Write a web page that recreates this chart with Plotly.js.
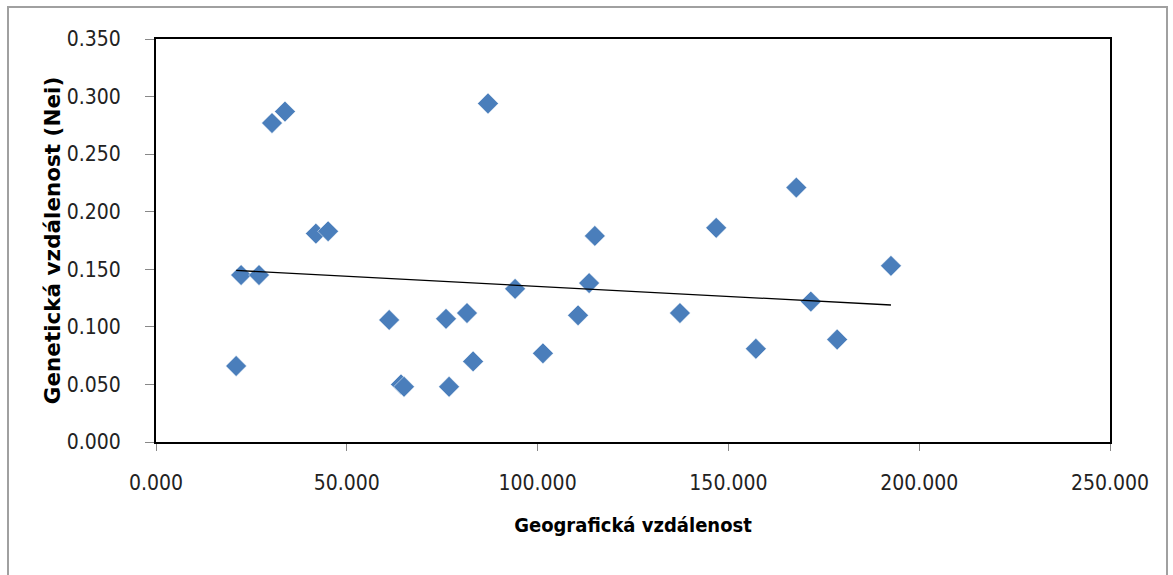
<!DOCTYPE html>
<html>
<head>
<meta charset="utf-8">
<script src="https://cdn.plot.ly/plotly-3.0.1.min.js"></script>
<style>
  html, body { margin: 0; padding: 0; background: #fff; }
  #frame { position: absolute; left: 7px; top: 6px; width: 1161px; height: 620px; border: 2px solid #a0a0a0; box-sizing: border-box; }
  #chart { position: absolute; left: 0; top: 0; width: 1173px; height: 575px; }
</style>
</head>
<body>
<div id="frame"></div>
<div id="chart"></div>
<script>
// Geographic distance (x) vs Nei genetic distance (y)
const geoDistance = [21.0, 22.3, 27.0, 30.4, 33.8, 41.9, 45.1, 61.1, 64.2, 65.0,
  76.0, 76.8, 81.5, 83.1, 87.0, 94.1, 101.4, 110.6, 113.5, 115.0,
  137.3, 146.8, 157.2, 167.8, 171.6, 178.5, 192.6];
const neiDistance = [0.066, 0.145, 0.145, 0.277, 0.287, 0.181, 0.183, 0.106, 0.050, 0.048,
  0.107, 0.048, 0.112, 0.070, 0.294, 0.133, 0.077, 0.110, 0.138, 0.179,
  0.112, 0.186, 0.081, 0.221, 0.122, 0.089, 0.153];
// Linear trend line endpoints
const trendX = [21.0, 192.6];
const trendY = [0.149, 0.119];

const xTicks = [0, 50, 100, 150, 200, 250];
const xTickText = ['0.000', '50.000', '100.000', '150.000', '200.000', '250.000'];
const yTicks = [0, 0.05, 0.1, 0.15, 0.2, 0.25, 0.3, 0.35];
const yTickText = ['0.000', '0.050', '0.100', '0.150', '0.200', '0.250', '0.300', '0.350'];

const tickFamily = 'DejaVu Sans Condensed, DejaVu Sans, sans-serif';

const traces = [
  {
    x: geoDistance, y: neiDistance, type: 'scatter', mode: 'markers',
    marker: { symbol: 'diamond', size: 16, color: '#4a7ebb', line: { width: 0.5, color: '#ffffff' } },
    hoverinfo: 'x+y'
  },
  {
    x: trendX, y: trendY, type: 'scatter', mode: 'lines',
    line: { color: '#000000', width: 1.3 }, hoverinfo: 'skip'
  }
];

const layout = {
  width: 1173, height: 575,
  margin: { l: 156, r: 63, t: 39, b: 133 },
  paper_bgcolor: 'rgba(0,0,0,0)',
  plot_bgcolor: '#ffffff',
  showlegend: false,
  font: { family: tickFamily, color: '#000' },
  xaxis: {
    range: [0, 250], tickvals: xTicks, ticktext: xTickText,
    showgrid: false, zeroline: false,
    showline: true, mirror: true, linecolor: '#000', linewidth: 2,
    ticks: 'outside', ticklen: 7, tickcolor: '#888', tickwidth: 1,
    ticklabelstandoff: 14,
    tickfont: { size: 21, family: tickFamily, color: '#222' },
    title: { text: 'Geografická vzdálenost', font: { size: 20, family: tickFamily, weight: 'bold' }, standoff: 24 }
  },
  yaxis: {
    range: [0, 0.35], tickvals: yTicks, ticktext: yTickText,
    showgrid: false, zeroline: false,
    showline: true, mirror: true, linecolor: '#000', linewidth: 2,
    ticks: 'outside', ticklen: 9, tickcolor: '#888', tickwidth: 1,
    ticklabelstandoff: 20,
    tickfont: { size: 21, family: tickFamily, color: '#222' },
    title: { text: 'Genetická vzdálenost (Nei)', font: { size: 21.5, family: 'DejaVu Sans, sans-serif', weight: 'bold' }, standoff: 0 }
  }
};

Plotly.newPlot('chart', traces, layout, { displayModeBar: false, staticPlot: true });
</script>
</body>
</html>
